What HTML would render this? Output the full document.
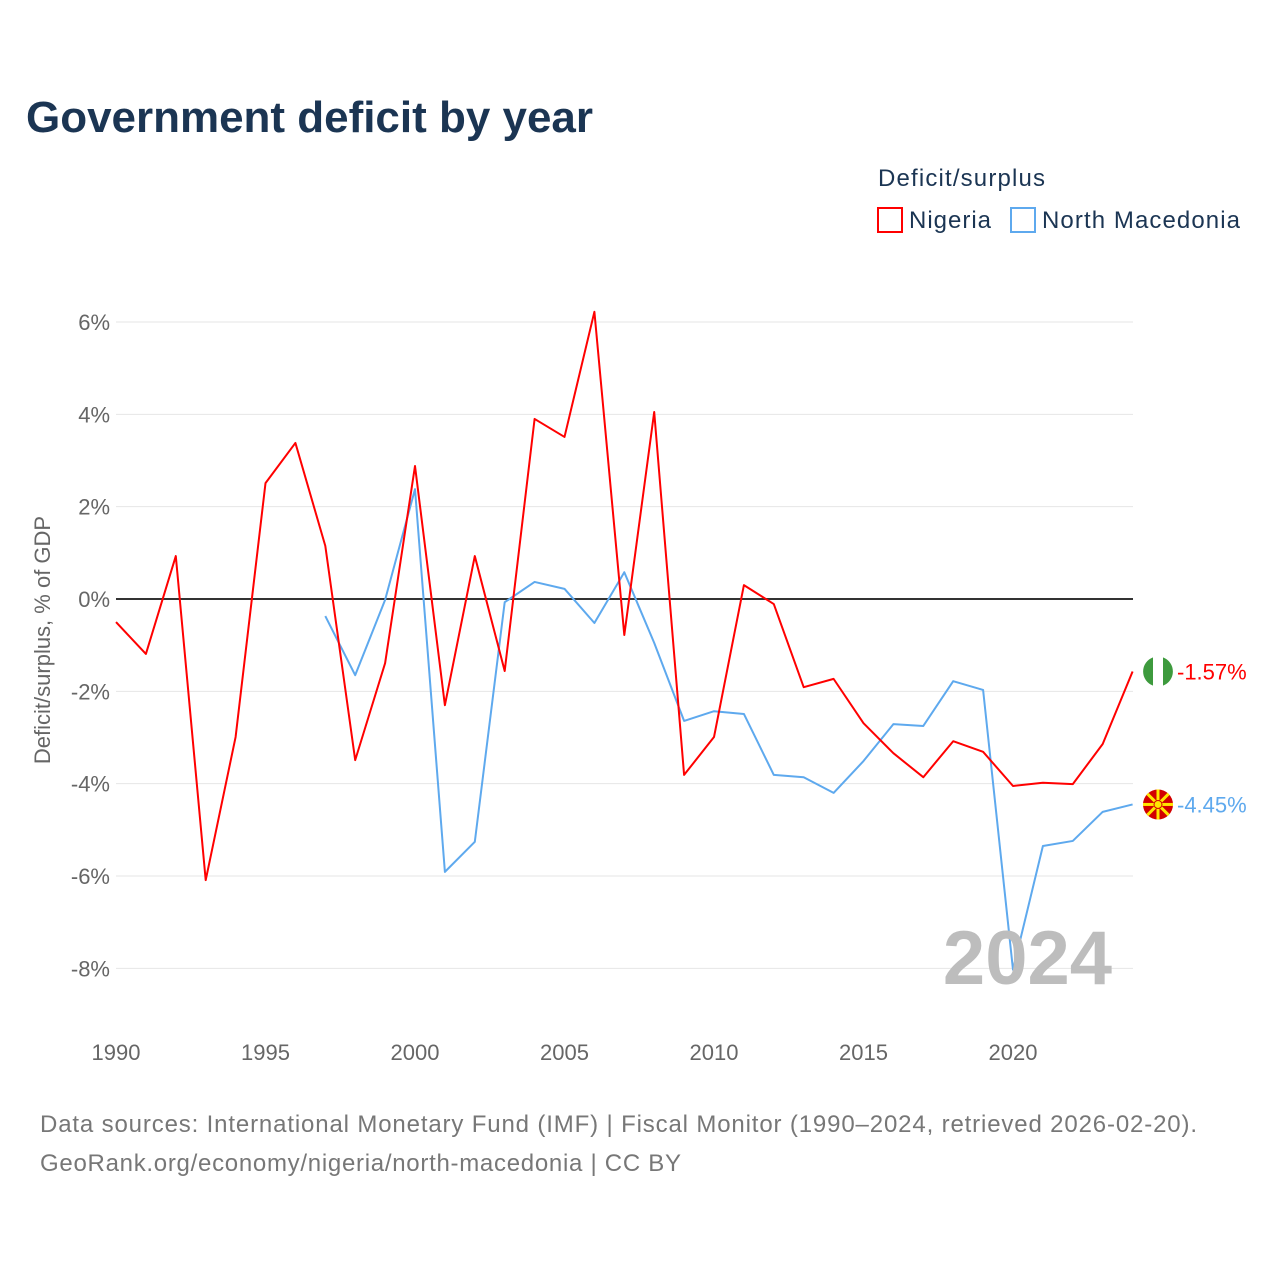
<!DOCTYPE html>
<html><head><meta charset="utf-8"><style>
body{margin:0;width:1280px;height:1280px;background:#fff;font-family:"Liberation Sans",sans-serif;overflow:hidden}
</style></head><body>
<svg id="c" width="1280" height="1280" xmlns="http://www.w3.org/2000/svg">
<text x="26" y="132" font-size="44" font-weight="bold" fill="#1b3553" textLength="567">Government deficit by year</text>
<text x="878" y="186" font-size="24" fill="#1b3553" textLength="167">Deficit/surplus</text>
<g><rect x="878" y="208" width="24" height="24" fill="#fff" stroke="#ff0000" stroke-width="2"/><text x="909" y="228" font-size="24" fill="#1b3553" textLength="82">Nigeria</text></g>
<g><rect x="1011" y="208" width="24" height="24" fill="#fff" stroke="#5ea9ee" stroke-width="2"/><text x="1042" y="228" font-size="24" fill="#1b3553" textLength="198">North Macedonia</text></g>
<text transform="translate(50,640) rotate(-90)" text-anchor="middle" font-size="22" fill="#666">Deficit/surplus, % of GDP</text>
<g id="grid"></g><g id="series"></g>
<text x="1112" y="984" text-anchor="end" font-size="76" font-weight="bold" fill="#bdbdbd">2024</text>
<text x="40" y="1132" font-size="24" fill="#777" textLength="1157">Data sources: International Monetary Fund (IMF) | Fiscal Monitor (1990–2024, retrieved 2026-02-20).</text>
<text x="40" y="1171" font-size="24" fill="#777" textLength="641">GeoRank.org/economy/nigeria/north-macedonia | CC BY</text>
</svg>
<script>
const years=[];for(let y=1990;y<=2024;y++)years.push(y);
const nigeria=[-0.5,-1.19,0.93,-6.09,-2.99,2.51,3.38,1.15,-3.49,-1.39,2.88,-2.30,0.93,-1.56,3.90,3.51,6.22,-0.78,4.05,-3.81,-2.99,0.30,-0.11,-1.91,-1.73,-2.69,-3.34,-3.86,-3.08,-3.31,-4.05,-3.98,-4.01,-3.14,-1.57];
const macYears=[];for(let y=1997;y<=2024;y++)macYears.push(y);
const macedonia=[-0.37,-1.65,-0.02,2.38,-5.91,-5.26,-0.07,0.37,0.22,-0.52,0.58,-0.95,-2.64,-2.43,-2.49,-3.81,-3.86,-4.20,-3.51,-2.71,-2.75,-1.78,-1.97,-8.03,-5.35,-5.24,-4.61,-4.45];
const yTicks=[6,4,2,0,-2,-4,-6,-8];
const xTicks=[1990,1995,2000,2005,2010,2015,2020];
const X=y=>116+(y-1990)*29.9;
const Y=v=>599-v*46.17;
const NS="http://www.w3.org/2000/svg";
function mk(p,t,a){const e=document.createElementNS(NS,t);for(const k in a)e.setAttribute(k,a[k]);p.appendChild(e);return e;}
const g=document.getElementById('grid'),s=document.getElementById('series');
yTicks.forEach(v=>{
 const l=mk(g,'line',{x1:116,x2:1133,y1:Y(v),y2:Y(v),stroke:v===0?'#333':'#e6e6e6','stroke-width':v===0?2:1});
 
 
 const t=mk(g,'text',{x:110,y:Y(v)+8,'text-anchor':'end','font-size':22,fill:'#666'});t.textContent=v+'%';
 
 
});
xTicks.forEach(v=>{
 const t=mk(g,'text',{x:X(v),y:1060,'text-anchor':'middle','font-size':22,fill:'#666'});t.textContent=v;
 
 
});
function line(xs,vs,col,name){
 const p=mk(s,'polyline',{points:xs.map((y,i)=>X(y)+','+Y(vs[i])).join(' '),fill:'none',stroke:col,'stroke-width':2,'stroke-linejoin':'round'});
 
 
}
line(macYears,macedonia,'#5ea9ee','line-north-macedonia');
line(years,nigeria,'#ff0000','line-nigeria');
const ln=nigeria[nigeria.length-1],lm=macedonia[macedonia.length-1];
const fx=1158;
let fg=mk(s,'g',{});


mk(fg,'circle',{cx:fx,cy:Y(ln),r:15,fill:'#fff'});
mk(fg,'path',{d:`M${fx-5},${Y(ln)-14.1} A15,15 0 0,0 ${fx-5},${Y(ln)+14.1} Z`,fill:'#3d9a3d'});
mk(fg,'path',{d:`M${fx+5},${Y(ln)-14.1} A15,15 0 0,1 ${fx+5},${Y(ln)+14.1} Z`,fill:'#3d9a3d'});
let t1=mk(s,'text',{x:1177,y:Y(ln)+8,'font-size':22,fill:'#ff0000'});t1.textContent=ln.toFixed(2)+'%';


let mg=mk(s,'g',{});


mk(mg,'circle',{cx:fx,cy:Y(lm),r:15,fill:'#d20000'});
for(let a=0;a<8;a++){const r=a*Math.PI/4;mk(mg,'line',{x1:fx,y1:Y(lm),x2:fx+15*Math.cos(r),y2:Y(lm)+15*Math.sin(r),stroke:'#ffe600','stroke-width':3});}
mk(mg,'circle',{cx:fx,cy:Y(lm),r:4,fill:'#ffe600',stroke:'#d20000','stroke-width':1});
let t2=mk(s,'text',{x:1177,y:Y(lm)+8,'font-size':22,fill:'#5ea9ee'});t2.textContent=lm.toFixed(2)+'%';


</script>
</body></html>
